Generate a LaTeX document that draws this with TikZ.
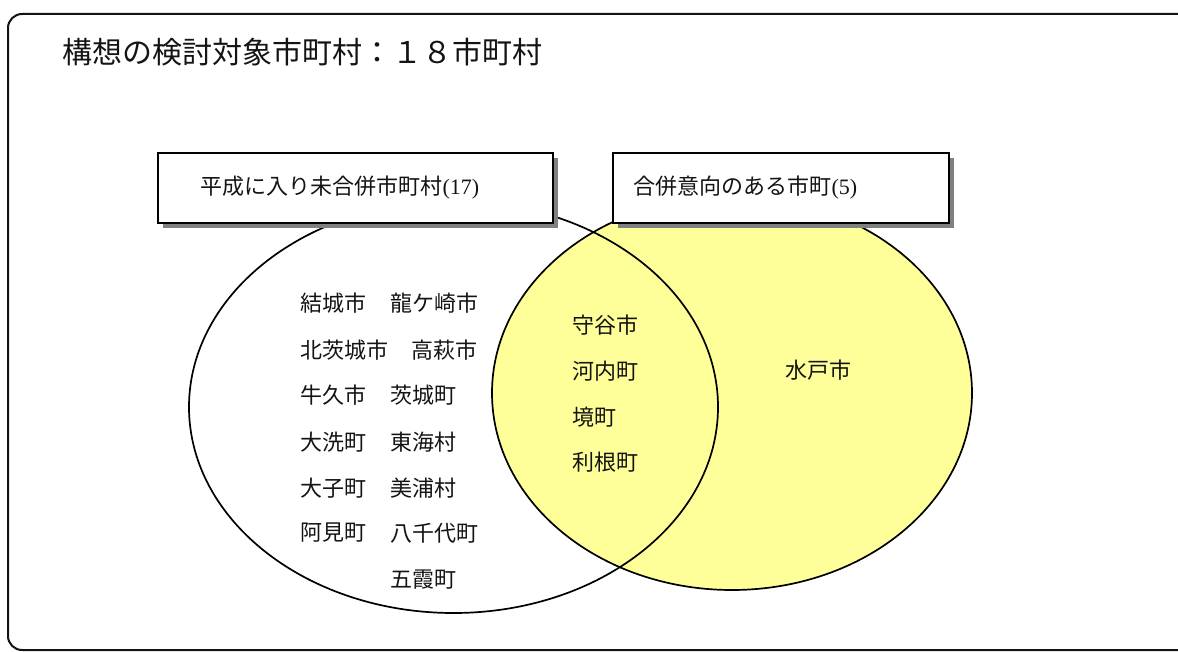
\documentclass[tikz,border=0pt]{standalone}
\usepackage{fontspec}
\setmainfont{Noto Sans CJK JP}
\newfontfamily\serifnum{Liberation Serif}
\usetikzlibrary{shapes.geometric,shadows}
\definecolor{vennyellow}{RGB}{255,255,153}
\definecolor{shadowgray}{RGB}{128,128,128}
\definecolor{inkblack}{RGB}{20,20,20}
\tikzset{
  frame/.style={draw=inkblack, line width=2pt, rounded corners=14pt},
  vennset/.style={ellipse, draw=black, line width=1.7pt, inner sep=0pt, outer sep=0pt},
  labelbox/.style={rectangle, draw=black, line width=1.4pt, fill=white, inner sep=0pt,
    general shadow={fill=shadowgray, shadow xshift=5pt, shadow yshift=-5pt}},
  boxtext/.style={anchor=west, inner sep=0pt, font=\fontsize{22}{26}\selectfont, text=inkblack},
  item/.style={anchor=west, inner sep=0pt, font=\fontsize{22}{26}\selectfont, text=inkblack},
  titletext/.style={anchor=west, inner sep=0pt, font=\fontsize{30}{34}\selectfont, text=inkblack}
}
\begin{document}
\begin{tikzpicture}[x=1pt,y=-1pt]
\useasboundingbox (0,0) rectangle (1178,652);
\draw[frame] (8,14) rectangle (1210,650);
\node[titletext] (title) at (62,52) {構想の検討対象市町村：１８市町村};
% sets
\node[vennset, fill=vennyellow, minimum width=480pt, minimum height=394pt] (setB) at (732,393) {};
\node[vennset, minimum width=529pt, minimum height=412pt] (setA) at (453.5,407) {};
% label boxes
\node[labelbox, minimum width=395pt, minimum height=70pt] (boxA) at (355.5,188) {};
\node[labelbox, minimum width=336pt, minimum height=70pt] (boxB) at (781,188) {};
\node[boxtext] (boxAtext) at ([xshift=43pt]boxA.west) {平成に入り未合併市町村{\serifnum\fontsize{22}{26}\selectfont(17)}};
\node[boxtext] (boxBtext) at ([xshift=21pt]boxB.west) {合併意向のある市町{\serifnum\fontsize{22}{26}\selectfont(5)}};
% left-only members
\node[item] (a1) at (300,303) {結城市};
\node[item] (a2) at (390,303) {龍ケ崎市};
\node[item] (a3) at (300,350) {北茨城市};
\node[item] (a4) at (411,350) {高萩市};
\node[item] (a5) at (300,395) {牛久市};
\node[item] (a6) at (390,395) {茨城町};
\node[item] (a7) at (300,442) {大洗町};
\node[item] (a8) at (390,442) {東海村};
\node[item] (a9) at (300,488) {大子町};
\node[item] (a10) at (390,488) {美浦村};
\node[item] (a11) at (300,533) {阿見町};
\node[item] (a12) at (390,533) {八千代町};
\node[item] (a13) at (390,580) {五霞町};
% intersection members
\node[item] (c1) at (572,325) {守谷市};
\node[item] (c2) at (572,371) {河内町};
\node[item] (c3) at (572,417) {境町};
\node[item] (c4) at (572,462) {利根町};
% right-only member
\node[item] (b1) at (785,370) {水戸市};
\end{tikzpicture}
\end{document}
